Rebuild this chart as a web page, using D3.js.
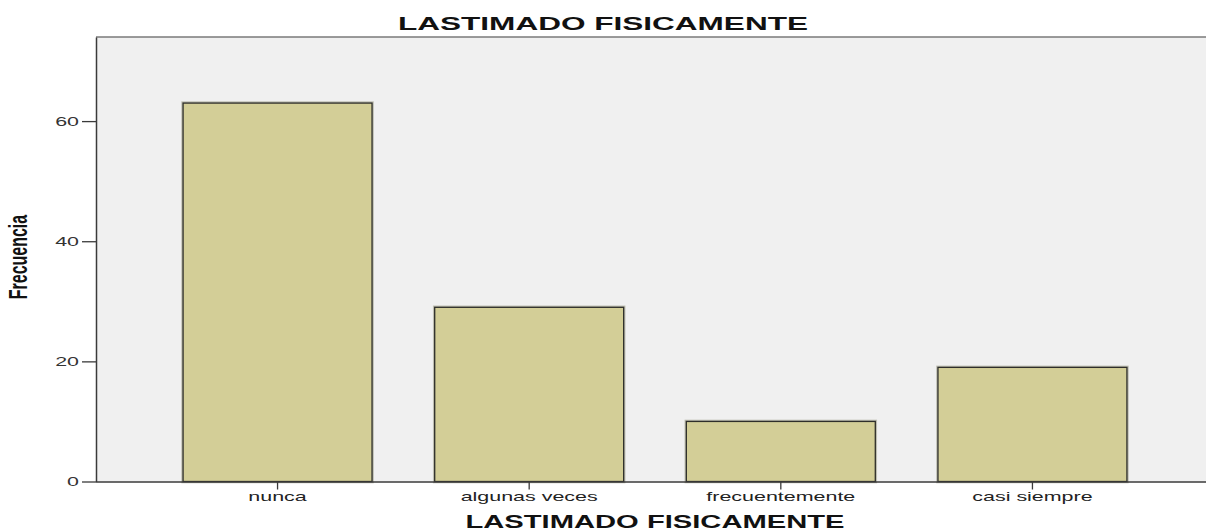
<!DOCTYPE html>
<html>
<head>
<meta charset="utf-8">
<script src="https://cdn.jsdelivr.net/npm/d3@7"></script>
<style>
  html, body { margin: 0; padding: 0; background: #fff; }
  svg { display: block; font-family: "Liberation Sans", Arial, sans-serif; }
</style>
</head>
<body>
<script>
// --- data ---
const categories = ["nunca", "algunas veces", "frecuentemente", "casi siempre"];
const frequencies = [63, 29, 10, 19];
const yTicks = [0, 20, 40, 60];
const chartTitle = "LASTIMADO FISICAMENTE";
const xTitle = "LASTIMADO FISICAMENTE";
const yTitle = "Frecuencia";

const width = 1206, height = 531;
// the source picture is stretched sideways, so text gets the same stretch
const sx = 1.65;

// plot frame (right edge runs past the window)
const plot = { left: 96, top: 37, right: 1214, bottom: 481.5 };

const svg = d3.select("body").append("svg")
  .attr("width", width)
  .attr("height", height);

const x = d3.scaleBand()
  .domain(categories)
  .range([plot.left, plot.right])
  .paddingInner(0.249)
  .paddingOuter(0.346);

const y = d3.scaleLinear()
  .domain([0, 74])
  .range([plot.bottom, plot.top]);

// background
svg.append("rect")
  .attr("x", plot.left)
  .attr("y", plot.top)
  .attr("width", plot.right - plot.left)
  .attr("height", plot.bottom - plot.top)
  .attr("fill", "#f0f0f0");

// top border
svg.append("line")
  .attr("x1", plot.left).attr("x2", plot.right)
  .attr("y1", plot.top).attr("y2", plot.top)
  .attr("stroke", "#7a7a7a")
  .attr("stroke-width", 1.5);

// bars: soft halo then outline
const bars = svg.append("g");
bars.selectAll("rect.halo")
  .data(frequencies)
  .join("rect")
    .attr("class", "halo")
    .attr("x", (d, i) => x(categories[i]))
    .attr("y", d => y(d))
    .attr("width", x.bandwidth())
    .attr("height", d => y(0) - y(d))
    .attr("fill", "none")
    .attr("stroke", "#bdbdb0")
    .attr("stroke-width", 3.5);

bars.selectAll("rect.bar")
  .data(frequencies)
  .join("rect")
    .attr("class", "bar")
    .attr("x", (d, i) => x(categories[i]))
    .attr("y", d => y(d))
    .attr("width", x.bandwidth())
    .attr("height", d => y(0) - y(d))
    .attr("fill", "#d3ce97")
    .attr("stroke", "#2e2e2a")
    .attr("stroke-width", 1.3);

// y axis
const yAxis = svg.append("g")
  .attr("transform", `translate(${plot.left},0)`)
  .call(d3.axisLeft(y).tickValues(yTicks).tickSize(14).tickPadding(3).tickSizeOuter(0));
yAxis.select(".domain").attr("stroke", "#3a3a3a").attr("stroke-width", 1.5);
yAxis.selectAll(".tick line").attr("stroke", "#3a3a3a").attr("stroke-width", 1.3);
yAxis.selectAll(".tick text")
  .attr("font-size", 13)
  .attr("fill", "#333")
  .attr("font-family", null)
  .attr("x", -17 / sx)
  .attr("transform", `scale(${sx},1)`);

// x axis
const xAxis = svg.append("g")
  .attr("transform", `translate(0,${plot.bottom})`)
  .call(d3.axisBottom(x).tickSize(8).tickPadding(3).tickSizeOuter(0));
xAxis.select(".domain")
  .attr("d", `M${plot.left},0.5H${plot.right}`)
  .attr("stroke", "#3a3a3a").attr("stroke-width", 1.5);
xAxis.selectAll(".tick line").attr("stroke", "#3a3a3a").attr("stroke-width", 1.3);
xAxis.selectAll(".tick text")
  .attr("font-size", 13)
  .attr("fill", "#222")
  .attr("font-family", null)
  .attr("y", 10)
  .attr("transform", `scale(${sx},1)`);

// titles
svg.append("text")
  .attr("x", 603)
  .attr("y", 30)
  .attr("text-anchor", "middle")
  .attr("font-size", 18.5)
  .attr("font-weight", "bold")
  .attr("fill", "#111")
  .attr("textLength", 410)
  .attr("lengthAdjust", "spacingAndGlyphs")
  .text(chartTitle);

svg.append("text")
  .attr("x", (plot.left + plot.right) / 2)
  .attr("y", 528)
  .attr("text-anchor", "middle")
  .attr("font-size", 17.5)
  .attr("font-weight", "bold")
  .attr("fill", "#111")
  .attr("textLength", 379)
  .attr("lengthAdjust", "spacingAndGlyphs")
  .text(xTitle);

svg.append("text")
  .attr("transform", `translate(27,257) scale(${sx},1) rotate(-90)`)
  .attr("text-anchor", "middle")
  .attr("font-size", 16)
  .attr("font-weight", "bold")
  .attr("fill", "#111")
  .text(yTitle);
</script>
</body>
</html>
